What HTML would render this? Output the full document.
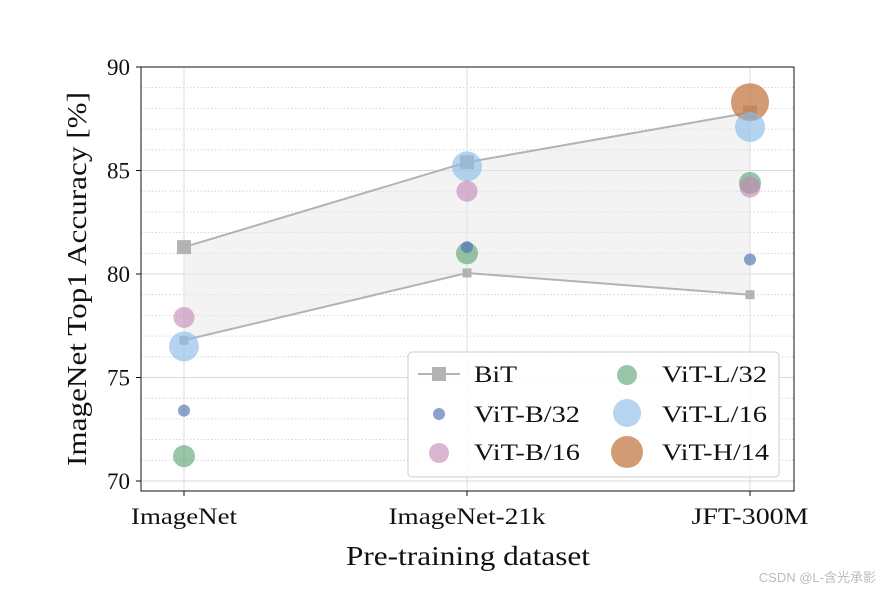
<!DOCTYPE html>
<html><head><meta charset="utf-8"><style>
body{margin:0;background:#fff;}
text{font-family:"Liberation Serif","DejaVu Serif",serif;fill:#111;}
</style></head><body>
<svg id="chart" width="880" height="592" xmlns="http://www.w3.org/2000/svg">
<g id="grid"></g>
<g id="marks"></g>
<rect x="141" y="67" width="653" height="424" fill="none" stroke="#111" stroke-width="1"/>
<g id="axes"></g>
<text transform="translate(86,279) rotate(-90)" text-anchor="middle" font-size="27" textLength="374" lengthAdjust="spacingAndGlyphs">ImageNet Top1 Accuracy [%]</text>
<text x="468" y="565" text-anchor="middle" font-size="27" textLength="244" lengthAdjust="spacingAndGlyphs">Pre-training dataset</text>
<g>
<rect x="408" y="352" width="371" height="125" rx="4" fill="#fff" fill-opacity="0.85" stroke="#ccc"/>
<line x1="418" y1="374" x2="460" y2="374" stroke="#b3b3b3" stroke-width="2"/>
<rect x="432" y="367" width="14" height="14" fill="#b3b3b3"/>
<text x="474" y="382" font-size="23" textLength="43" lengthAdjust="spacingAndGlyphs">BiT</text>
<circle cx="439" cy="414" r="6" fill="#4c72b0" fill-opacity="0.65"/>
<text x="474" y="422" font-size="23" textLength="106" lengthAdjust="spacingAndGlyphs">ViT-B/32</text>
<circle cx="439" cy="453" r="10" fill="#c285b4" fill-opacity="0.6"/>
<text x="474" y="460" font-size="23" textLength="106" lengthAdjust="spacingAndGlyphs">ViT-B/16</text>
<circle cx="627" cy="375" r="10" fill="#55a06e" fill-opacity="0.6"/>
<text x="662" y="382" font-size="23" textLength="105" lengthAdjust="spacingAndGlyphs">ViT-L/32</text>
<circle cx="627" cy="413" r="14" fill="#8dbde8" fill-opacity="0.65"/>
<text x="662" y="422" font-size="23" textLength="105" lengthAdjust="spacingAndGlyphs">ViT-L/16</text>
<circle cx="627" cy="452" r="16" fill="#c47a45" fill-opacity="0.75"/>
<text x="662" y="460" font-size="23" textLength="107" lengthAdjust="spacingAndGlyphs">ViT-H/14</text>
</g>
<text x="876" y="582" text-anchor="end" font-size="13" style="fill:#bbb;font-family:'Liberation Sans','Noto Sans CJK SC',sans-serif">CSDN @L-含光承影</text>
</svg>
<script>
const categories=["ImageNet","ImageNet-21k","JFT-300M"];
const bitHigh=[81.3,85.4,87.8];
const bitLow=[76.8,80.05,79.0];
const vitB32=[73.4,81.3,80.7];
const vitB16=[77.9,84.0,84.2];
const vitL32=[71.2,81.0,84.4];
const vitL16=[76.5,85.2,87.1];
const vitH14=[null,null,88.3];
const yTicks=[70,75,80,85,90];
const NS="http://www.w3.org/2000/svg";
const X=i=>184+i*283;
const Y=v=>481-(v-70)*20.7;
const catWidths=[106,157,117];
function mk(tag,attrs,parent){const e=document.createElementNS(NS,tag);for(const k in attrs)e.setAttribute(k,attrs[k]);document.getElementById(parent).appendChild(e);return e;}
for(let v=70;v<=90;v++){const l=mk('line',{x1:141,x2:794,y1:Y(v),y2:Y(v),stroke:'#ccc','stroke-width':0.8,'stroke-dasharray':v%5?'1.5,2':'none'},'grid');

}
categories.forEach((c,i)=>{const l=mk('line',{x1:X(i),x2:X(i),y1:67,y2:491,stroke:'#ddd','stroke-width':1},'grid');


const t=mk('text',{x:X(i),y:524,'text-anchor':'middle','font-size':23,textLength:catWidths[i],lengthAdjust:'spacingAndGlyphs'},'axes');t.textContent=c;


mk('line',{x1:X(i),x2:X(i),y1:491,y2:496,stroke:'#111'},'axes');});
yTicks.forEach(v=>{const t=mk('text',{x:130,y:Y(v)+8,'text-anchor':'end','font-size':23},'axes');t.textContent=v;


mk('line',{x1:136,x2:141,y1:Y(v),y2:Y(v),stroke:'#111'},'axes');});
let pts=bitHigh.map((v,i)=>X(i)+','+Y(v)).concat(bitLow.map((v,i)=>X(i)+','+Y(v)).reverse()).join(' ');
const band=mk('polygon',{points:pts,fill:'#e8e8e8','fill-opacity':0.5},'marks');


[[bitHigh,14,'bit-high'],[bitLow,9,'bit-low']].forEach(([arr,s,n])=>{
const pl=mk('polyline',{points:arr.map((v,i)=>X(i)+','+Y(v)).join(' '),fill:'none',stroke:'#b3b3b3','stroke-width':2},'marks');


arr.forEach((v,i)=>{const r=mk('rect',{x:X(i)-s/2,y:Y(v)-s/2,width:s,height:s,fill:'#b3b3b3'},'marks');

});});
[[vitH14,19,'#c47a45',0.75,'vit-h14'],[vitL16,15,'#8dbde8',0.65,'vit-l16'],[vitL32,11,'#55a06e',0.6,'vit-l32'],[vitB16,10.5,'#c285b4',0.6,'vit-b16'],[vitB32,6,'#4c72b0',0.65,'vit-b32']].forEach(([arr,r,col,op,n])=>{
arr.forEach((v,i)=>{if(v==null)return;const c=mk('circle',{cx:X(i),cy:Y(v),r:r,fill:col,'fill-opacity':op},'marks');

});});
</script>
</body></html>
